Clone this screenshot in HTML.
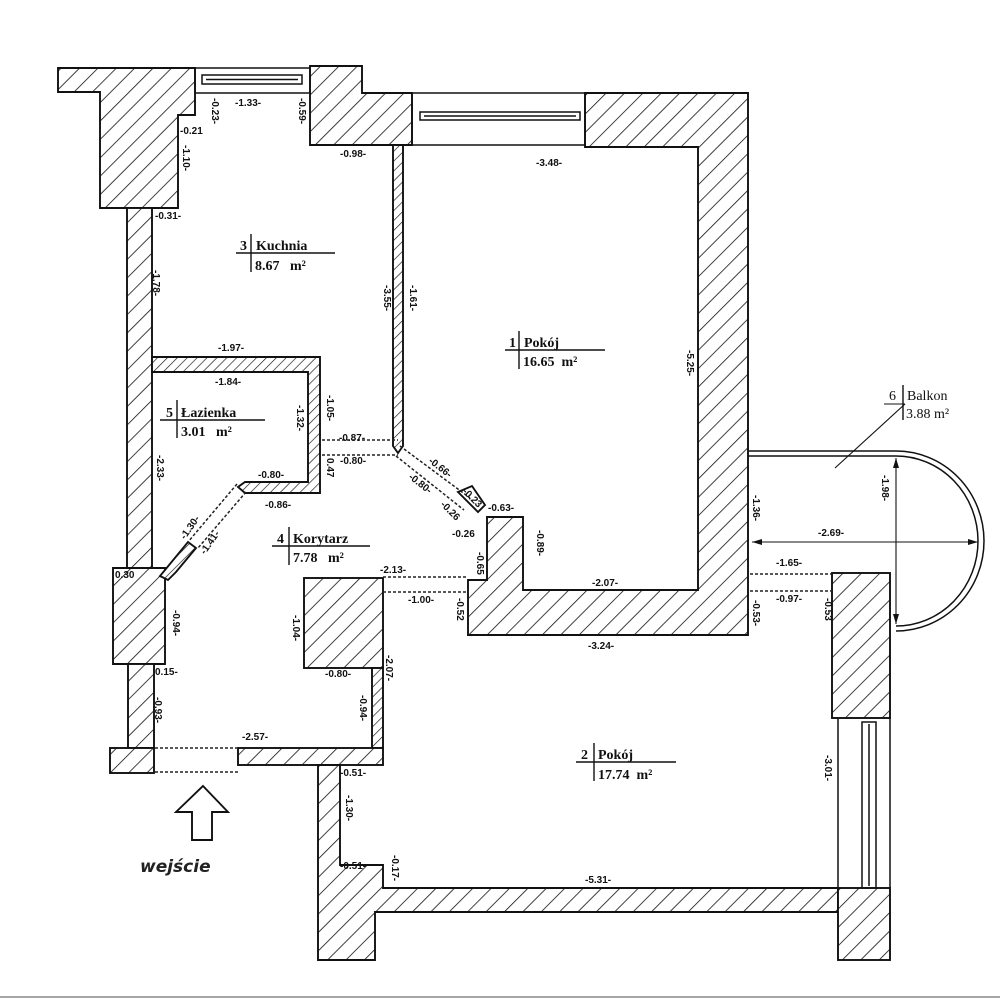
<!DOCTYPE html>
<html><head><meta charset="utf-8"><style>
html,body{margin:0;padding:0;background:#fff;}
svg{display:block;}
.d{font-family:"Liberation Sans",sans-serif;font-size:10px;font-weight:bold;fill:#111;}
.l{font-family:"Liberation Serif",serif;font-size:14px;font-weight:bold;fill:#111;}
</style></head><body>
<svg width="1000" height="1000" viewBox="0 0 1000 1000" xmlns="http://www.w3.org/2000/svg">
<defs>
<pattern id="h" width="13" height="13" patternUnits="userSpaceOnUse" patternTransform="rotate(45)">
<rect width="13" height="13" fill="#fff"/>
<line x1="0" y1="0" x2="0" y2="13" stroke="#111" stroke-width="1.6"/>
</pattern>
<pattern id="h2" width="7" height="7" patternUnits="userSpaceOnUse" patternTransform="rotate(45)">
<rect width="7" height="7" fill="#fff"/>
<line x1="0" y1="0" x2="0" y2="7" stroke="#111" stroke-width="1.3"/>
</pattern>
</defs>
<g stroke="#111" stroke-width="1.9" fill="url(#h)">
<polygon points="58,68 195,68 195,115 178,115 178,208 100,208 100,92 58,92"/>
<rect x="127" y="208" width="25" height="360"/>
<polygon points="113,568 165,568 165,664 113,664"/>
<rect x="128" y="664" width="26" height="84"/>
<rect x="110" y="748" width="44" height="25"/>
<polygon points="310,66 362,66 362,93 412,93 412,145 310,145"/>
<polygon points="585,93 748,93 748,635 468,635 468,580 487,580 487,517 523,517 523,590 698,590 698,147 585,147"/>
<polygon points="393,145 403,145 403,446 398,453 393,446" fill="url(#h2)"/>
<polygon points="152,357 320,357 320,493 245,493 238,487 245,482 308,482 308,372 152,372" fill="url(#h2)"/>
<polygon points="168,580 176,572 196,548 188,542 160,576" fill="url(#h2)"/>
<polygon points="458,492 472,486 485,505 478,512" fill="#fff"/>
<rect x="304" y="578" width="79" height="90"/>
<rect x="372" y="668" width="11" height="80" fill="url(#h2)"/>
<rect x="238" y="748" width="145" height="17"/>
<polygon points="318,765 340,765 340,865 383,865 383,888 838,888 838,912 375,912 375,960 318,960"/>
<rect x="838" y="888" width="52" height="72"/>
<rect x="832" y="573" width="58" height="145"/>
</g>
<g stroke="#111" stroke-width="1.5" fill="none">
<rect x="195" y="68" width="115" height="25"/>
<rect x="202" y="75" width="100" height="9"/>
<line x1="206" y1="79.5" x2="298" y2="79.5"/>
<rect x="412" y="93" width="173" height="52"/>
<rect x="420" y="112" width="160" height="8"/>
<line x1="424" y1="116" x2="576" y2="116"/>
<line x1="838" y1="718" x2="838" y2="888"/>
<line x1="890" y1="718" x2="890" y2="888"/>
<rect x="862" y="722" width="14" height="166"/>
<line x1="869" y1="724" x2="869" y2="886"/>
<line x1="748" y1="451" x2="896" y2="451"/>
<line x1="748" y1="456" x2="896" y2="456"/>
<path d="M896,451 A88,90 0 0 1 896,631"/>
<path d="M896,456 A82,85 0 0 1 896,626"/>
<line x1="752" y1="542" x2="978" y2="542" stroke-width="1.1"/>
<line x1="896" y1="458" x2="896" y2="624" stroke-width="1.1"/>
<line x1="905" y1="404" x2="835" y2="468" stroke-width="1.1"/>
<line x1="884" y1="404" x2="905" y2="404" stroke-width="1.1"/>
</g>
<g fill="#111">
<polygon points="752,542 762,539 762,545"/>
<polygon points="978,542 968,539 968,545"/>
<polygon points="896,458 893,468 899,468"/>
<polygon points="896,624 893,614 899,614"/>
</g>
<g stroke="#222" stroke-width="1.5" stroke-dasharray="3,2" fill="none">
<line x1="155" y1="748" x2="238" y2="748"/>
<line x1="155" y1="772" x2="238" y2="772"/>
<line x1="322" y1="440" x2="398" y2="440"/>
<line x1="322" y1="455" x2="398" y2="455"/>
<line x1="400" y1="446" x2="470" y2="498"/>
<line x1="396" y1="456" x2="464" y2="510"/>
<line x1="383" y1="577" x2="468" y2="577"/>
<line x1="383" y1="592" x2="468" y2="592"/>
<line x1="750" y1="574" x2="832" y2="574"/>
<line x1="750" y1="591" x2="832" y2="591"/>
<line x1="237" y1="484" x2="188" y2="542"/>
<line x1="246" y1="492" x2="198" y2="548"/>
</g>
<polygon points="203,786 228,812 212,812 212,840 192,840 192,812 176,812" fill="#fff" stroke="#111" stroke-width="1.9"/>
<text x="140" y="872" font-family="DejaVu Sans,sans-serif" font-style="italic" font-weight="bold" font-size="17" fill="#222">wejście</text>
<g stroke="#111" stroke-width="1.4">
<line x1="236" y1="253" x2="335" y2="253"/><line x1="251" y1="234" x2="251" y2="272"/>
<line x1="505" y1="350" x2="605" y2="350"/><line x1="519" y1="331" x2="519" y2="369"/>
<line x1="160" y1="420" x2="265" y2="420"/><line x1="177" y1="400" x2="177" y2="438"/>
<line x1="272" y1="546" x2="370" y2="546"/><line x1="289" y1="527" x2="289" y2="565"/>
<line x1="576" y1="762" x2="676" y2="762"/><line x1="594" y1="743" x2="594" y2="781"/>
<line x1="903" y1="385" x2="903" y2="420"/>
</g>
<g class="l">
<text x="240" y="250">3</text><text x="256" y="250">Kuchnia</text><text x="255" y="270">8.67&#160;&#160;&#160;m²</text>
<text x="509" y="347">1</text><text x="524" y="347">Pokój</text><text x="523" y="366">16.65&#160;&#160;m²</text>
<text x="166" y="417">5</text><text x="181" y="417">Łazienka</text><text x="181" y="436">3.01&#160;&#160;&#160;m²</text>
<text x="277" y="543">4</text><text x="293" y="543">Korytarz</text><text x="293" y="562">7.78&#160;&#160;&#160;m²</text>
<text x="581" y="759">2</text><text x="598" y="759">Pokój</text><text x="598" y="779">17.74&#160;&#160;m²</text>
<text x="889" y="400" font-weight="normal">6</text><text x="907" y="400" font-weight="normal">Balkon</text><text x="906" y="418" font-weight="normal">3.88 m²</text>
</g>
<g class="d">
<text x="235" y="106">-1.33-</text>
<text x="340" y="157">-0.98-</text>
<text x="536" y="166">-3.48-</text>
<text x="180" y="134">-0.21</text>
<text x="155" y="219">-0.31-</text>
<text x="218" y="351">-1.97-</text>
<text x="215" y="385">-1.84-</text>
<text x="339" y="441">-0.87-</text>
<text x="340" y="464">-0.80-</text>
<text x="258" y="478">-0.80-</text>
<text x="265" y="508">-0.86-</text>
<text x="115" y="578">0.30</text>
<text x="155" y="675">0.15-</text>
<text x="242" y="740">-2.57-</text>
<text x="325" y="677">-0.80-</text>
<text x="380" y="573">-2.13-</text>
<text x="408" y="603">-1.00-</text>
<text x="488" y="511">-0.63-</text>
<text x="452" y="537">-0.26</text>
<text x="592" y="586">-2.07-</text>
<text x="588" y="649">-3.24-</text>
<text x="340" y="776">-0.51-</text>
<text x="340" y="869">-0.51-</text>
<text x="585" y="883">-5.31-</text>
<text x="776" y="566">-1.65-</text>
<text x="776" y="602">-0.97-</text>
<text x="818" y="536">-2.69-</text>
<g transform="rotate(90)">
<text x="98" y="-212">-0.23-</text>
<text x="98" y="-299">-0.59-</text>
<text x="145" y="-183">-1.10-</text>
<text x="270" y="-153">-1.78-</text>
<text x="285" y="-384">-3.55-</text>
<text x="285" y="-410">-1.61-</text>
<text x="350" y="-687">-5.25-</text>
<text x="395" y="-327">-1.05-</text>
<text x="405" y="-297">-1.32-</text>
<text x="458" y="-327">0.47</text>
<text x="455" y="-157">-2.33-</text>
<text x="610" y="-173">-0.94-</text>
<text x="697" y="-155">-0.93-</text>
<text x="615" y="-293">-1.04-</text>
<text x="655" y="-386">-2.07-</text>
<text x="695" y="-360">-0.94-</text>
<text x="795" y="-346">-1.30-</text>
<text x="855" y="-392">-0.17-</text>
<text x="552" y="-477">-0.65</text>
<text x="598" y="-457">-0.52</text>
<text x="530" y="-537">-0.89-</text>
<text x="495" y="-753">-1.36-</text>
<text x="600" y="-753">-0.53-</text>
<text x="598" y="-825">-0.53</text>
<text x="755" y="-825">-3.01-</text>
<text x="475" y="-882">-1.98-</text>
</g>
<text transform="translate(185,540) rotate(-55)">-1.30-</text>
<text transform="translate(205,555) rotate(-55)">-1.41-</text>
<text transform="translate(428,462) rotate(38)">-0.66-</text>
<text transform="translate(408,478) rotate(38)">-0.80-</text>
<text transform="translate(462,492) rotate(45)">-0.23</text>
<text transform="translate(440,505) rotate(45)">-0.26</text>
</g>
<line x1="0" y1="997" x2="1000" y2="997" stroke="#888" stroke-width="1.5"/>
</svg>
</body></html>
